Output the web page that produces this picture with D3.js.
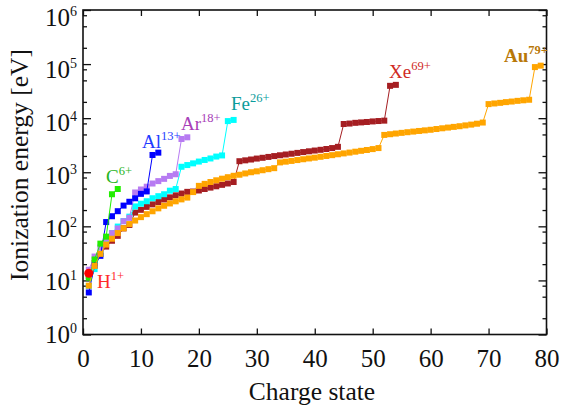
<!DOCTYPE html>
<html>
<head>
<meta charset="utf-8">
<script src="https://cdn.jsdelivr.net/npm/d3@7"></script>
<style>
  body { margin: 0; background: #fff; }
  svg { display: block; }
  text { font-family: "Liberation Serif", "Times New Roman", serif; fill: #111; }
</style>
</head>
<body>
<svg id="chart" width="564" height="411"></svg>
<script>
// Successive ionization energies (eV); entry i is the energy that produces charge state i+1.
const hydrogen = [13.6];
const carbon = [11.26, 24.38, 47.89, 64.49, 392.1, 490.0];
const aluminium = [5.99, 18.83, 28.45, 120.0, 153.8, 190.5, 241.8, 284.6, 330.2, 398.7, 442.0, 2086, 2304];
const argon = [15.76, 27.63, 40.74, 59.58, 74.84, 91.29, 124.4, 143.5, 422.6, 479.8, 540.4, 619.0,
  685.5, 755.1, 855.5, 918.4, 4121, 4426];
const iron = [7.90, 16.20, 30.65, 54.91, 75.0, 99.0, 125.0, 151.1, 233.6, 262.1, 290.9, 330.8,
  361.0, 392.2, 456.2, 489.3, 1263, 1358, 1460, 1576, 1687, 1798, 1950, 2046, 8828, 9278];
const xenon = [12.13, 20.98, 31.05, 42.2, 54.1, 66.7, 91.6, 106.0, 179.8, 202.0, 229.0, 255.0,
  281.0, 314.0, 343.0, 374.0, 404.0, 434.0, 440, 460, 490, 520, 550, 585, 620, 660,
  1600, 1660, 1720, 1790, 1850, 1920, 1990, 2060, 2130, 2200, 2280, 2360, 2440, 2520, 2600, 2690,
  2800, 2950, 7800, 7950, 8200, 8350, 8500, 8700, 8850, 9000, 39600, 41300];
const gold = [8.0, 18.5, 31, 46, 59, 75, 92, 110, 128, 148, 168, 190, 215, 240, 265, 290, 315, 340,
  430, 560, 610, 660, 710, 760, 810, 860, 900, 950, 1000, 1040, 1090, 1140, 1190, 1520, 1570, 1620,
  1680, 1740, 1800, 1860, 1930, 2000, 2070, 2150, 2230, 2310, 2400, 2490, 2580, 2680, 2800, 4900,
  5050, 5200, 5350, 5500, 5650, 5800, 5950, 6100, 6300, 6500, 6700, 6900, 7100, 7350, 7600, 7900,
  8300, 18200, 18700, 19200, 19800, 20300, 20900, 21400, 21900, 88000, 93500];

const xTicks = [0, 10, 20, 30, 40, 50, 60, 70, 80];
const yExponents = [0, 1, 2, 3, 4, 5, 6];
const minorMantissas = [2, 5, 8];

const series = [
  { values: xenon,     color: "#a51e22" },
  { values: iron,      color: "#00ffff" },
  { values: argon,     color: "#b77bf2" },
  { values: aluminium, color: "#0000ff" },
  { values: carbon,    color: "#22ee00" },
  { values: gold,      color: "#ffa500" }
];

const labels = [
  { base: "H",  sup: "1+",  color: "#ff2a2a", x: 97,  y: 288, bold: false },
  { base: "C",  sup: "6+",  color: "#27b522", x: 106, y: 183, bold: false },
  { base: "Al", sup: "13+", color: "#1f3cff", x: 142, y: 148, bold: false },
  { base: "Ar", sup: "18+", color: "#a840b8", x: 181, y: 130, bold: false },
  { base: "Fe", sup: "26+", color: "#0a9c9c", x: 231, y: 110, bold: false },
  { base: "Xe", sup: "69+", color: "#d02a1e", x: 389, y: 78,  bold: false },
  { base: "Au", sup: "79+", color: "#b87808", x: 504, y: 62,  bold: true }
];

const svg = d3.select("#chart");
const plotLeft = 83, plotRight = 546.5, plotTop = 10, plotBottom = 334.5;

const x = d3.scaleLinear().domain([0, 80]).range([plotLeft, plotRight]);
const y = d3.scaleLog().domain([1, 1e6]).range([plotBottom, plotTop]);

const majorY = yExponents.map(e => Math.pow(10, e));
const minorY = [];
yExponents.slice(0, -1).forEach(e => minorMantissas.forEach(m => minorY.push(m * Math.pow(10, e))));

// Axes with inward ticks on all four sides
const axisG = svg.append("g");
function styleAxis(g) {
  g.select(".domain").remove();
  g.selectAll(".tick line").attr("stroke", "#111").attr("stroke-width", 1.3);
}
axisG.append("g").attr("transform", `translate(0,${plotBottom})`)
  .call(d3.axisBottom(x).tickValues(xTicks).tickSize(-6).tickPadding(15).tickFormat(d3.format("d")))
  .call(styleAxis)
  .call(g => g.selectAll("text").attr("font-size", 25).attr("fill", "#111"));
axisG.append("g").attr("transform", `translate(0,${plotTop})`)
  .call(d3.axisTop(x).tickValues(xTicks).tickSize(-6).tickFormat(""))
  .call(styleAxis);

// Decade labels as 10 with a raised exponent; baselines sit a little below each tick
axisG.append("g").attr("transform", `translate(${plotLeft},0)`)
  .call(d3.axisLeft(y).tickValues(majorY).tickSize(-8).tickPadding(6).tickFormat(""))
  .call(styleAxis)
  .call(g => {
    const t = g.selectAll(".tick text")
      .attr("font-size", 25).attr("fill", "#111")
      .attr("dy", d => `${7.5 + 1.25 * Math.log10(d)}px`);
    t.append("tspan").text("10");
    t.append("tspan").text(d => Math.round(Math.log10(d)))
      .attr("font-size", 14).attr("dy", -10);
  });
axisG.append("g").attr("transform", `translate(${plotLeft},0)`)
  .call(d3.axisLeft(y).tickValues(minorY).tickSize(-4).tickFormat(""))
  .call(styleAxis);
axisG.append("g").attr("transform", `translate(${plotRight},0)`)
  .call(d3.axisRight(y).tickValues(majorY).tickSize(-8).tickFormat(""))
  .call(styleAxis);
axisG.append("g").attr("transform", `translate(${plotRight},0)`)
  .call(d3.axisRight(y).tickValues(minorY).tickSize(-4).tickFormat(""))
  .call(styleAxis);

svg.append("rect")
  .attr("x", plotLeft).attr("y", plotTop)
  .attr("width", plotRight - plotLeft).attr("height", plotBottom - plotTop)
  .attr("fill", "none").attr("stroke", "#111").attr("stroke-width", 1.6);

// Series: thin connecting line plus square markers
const line = d3.line().x((d, i) => x(i + 1)).y(d => y(d));
const plot = svg.append("g");
series.forEach(s => {
  const g = plot.append("g");
  g.append("path").datum(s.values)
    .attr("d", line).attr("fill", "none").attr("stroke", s.color).attr("stroke-width", 1);
  g.selectAll("rect").data(s.values).join("rect")
    .attr("x", (d, i) => x(i + 1) - 3).attr("y", d => y(d) - 3)
    .attr("width", 6).attr("height", 6).attr("fill", s.color);
});
plot.selectAll("circle.h").data(hydrogen).join("circle")
  .attr("class", "h")
  .attr("cx", (d, i) => x(i + 1)).attr("cy", d => y(d))
  .attr("r", 4.5).attr("fill", "#ff0000");

// Element labels with charge superscripts
labels.forEach(l => {
  const t = svg.append("text")
    .attr("x", l.x).attr("y", l.y)
    .attr("font-size", 19).attr("font-weight", l.bold ? "bold" : "normal")
    .style("fill", l.color);
  t.append("tspan").text(l.base);
  t.append("tspan").text(l.sup).attr("font-size", 12.5).attr("dy", -8);
});

// Axis titles
svg.append("text")
  .attr("x", 312).attr("y", 400)
  .attr("text-anchor", "middle").attr("font-size", 25.5)
  .text("Charge state");
svg.append("text")
  .attr("transform", "translate(28,165) rotate(-90)")
  .attr("text-anchor", "middle").attr("font-size", 25.5)
  .text("Ionization energy [eV]");
</script>
</body>
</html>
